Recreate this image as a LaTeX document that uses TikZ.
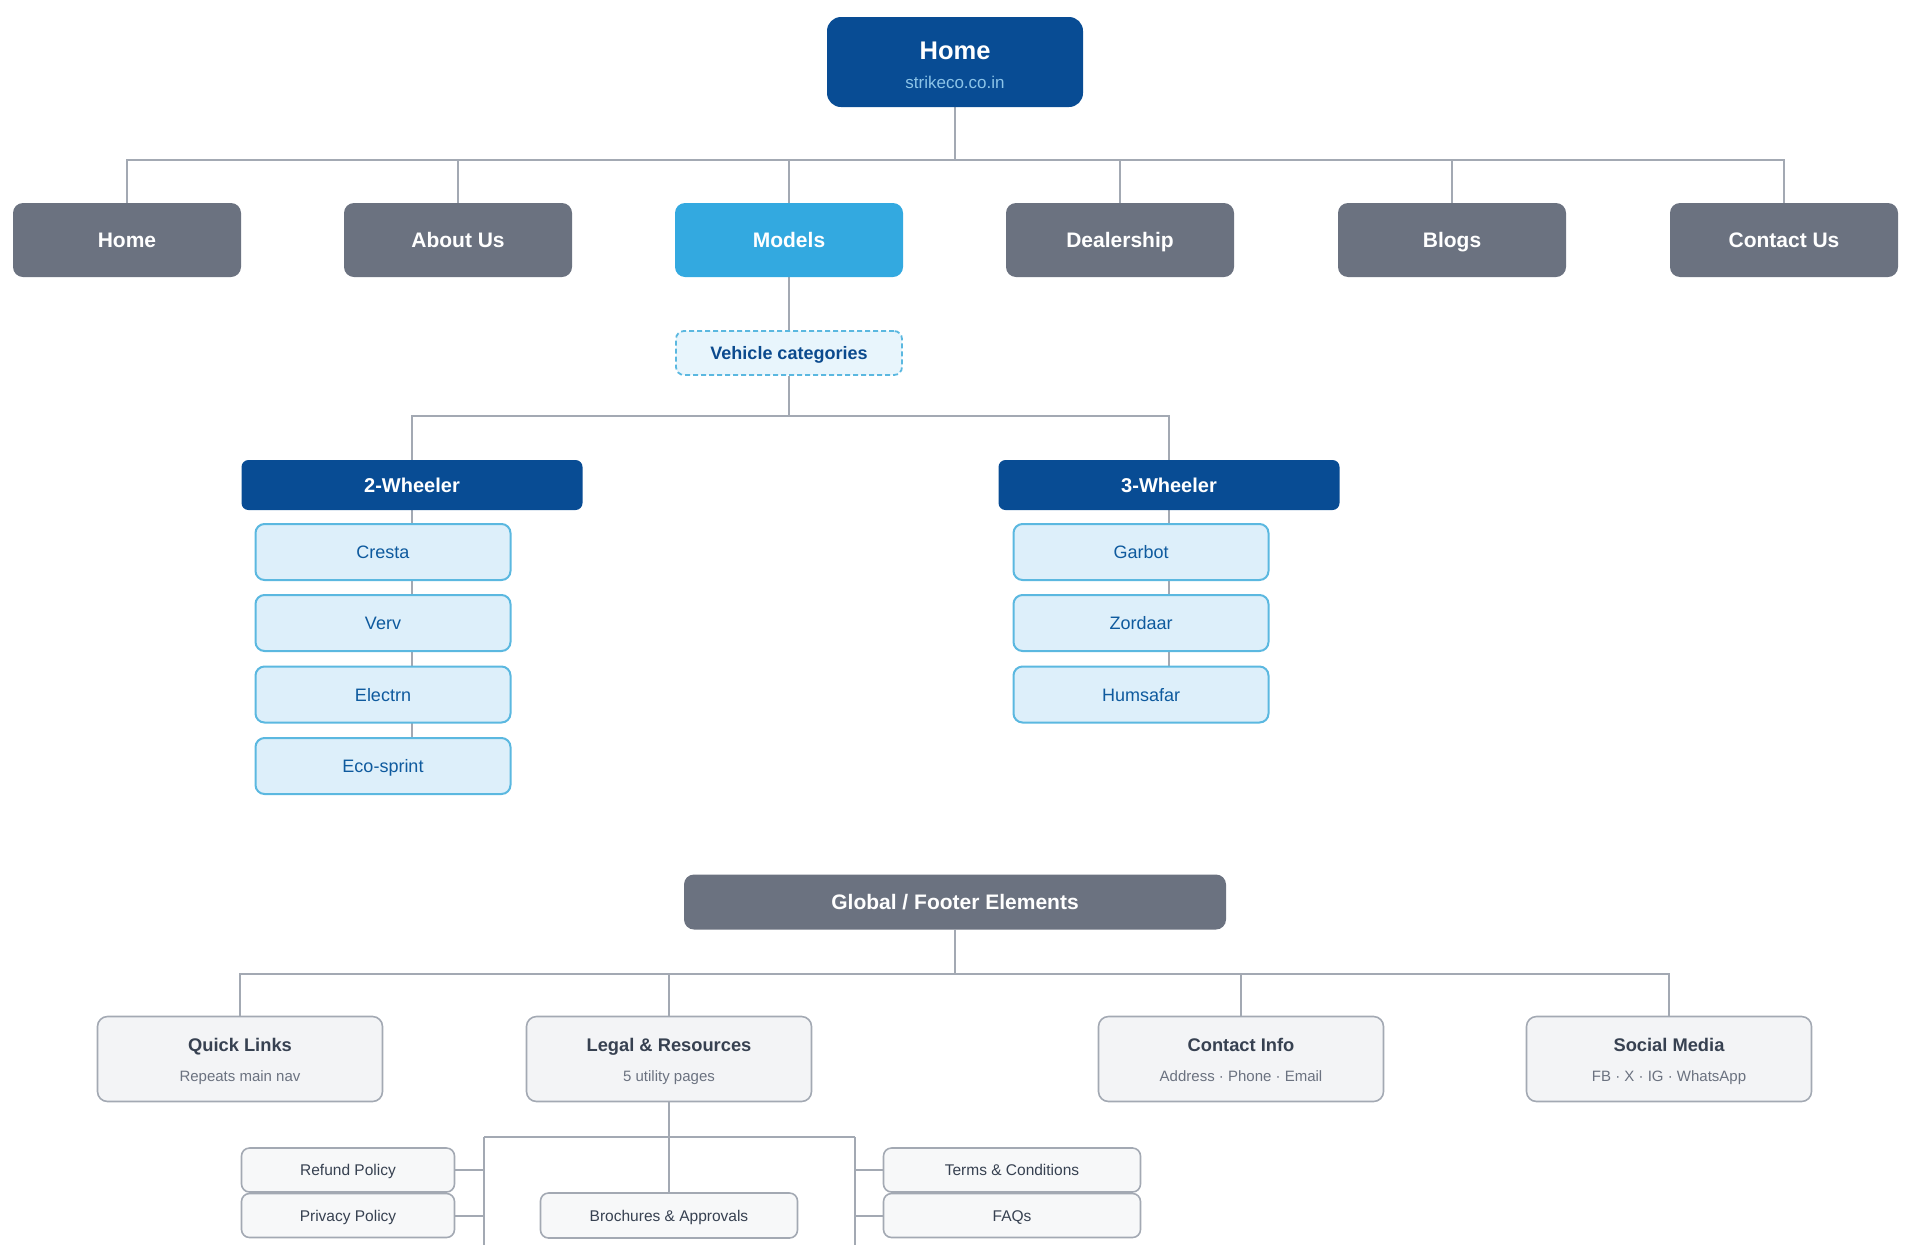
\documentclass[tikz,border=0pt]{standalone}
\usepackage{fontspec}
\setmainfont{Liberation Sans}
\usetikzlibrary{backgrounds}
\definecolor{navy}{HTML}{084C94}
\definecolor{navgray}{HTML}{6B7280}
\definecolor{skyb}{HTML}{33A9E0}
\definecolor{itemfill}{HTML}{DDEFFA}
\definecolor{itemdraw}{HTML}{5BB8E0}
\definecolor{itemtext}{HTML}{0E5A9E}
\definecolor{vehfill}{HTML}{E8F5FC}
\definecolor{vehtext}{HTML}{0B4A8E}
\definecolor{footfill}{HTML}{F3F4F6}
\definecolor{footdraw}{HTML}{A3A9B3}
\definecolor{foottitle}{HTML}{374151}
\definecolor{footsub}{HTML}{6B7280}
\definecolor{linec}{HTML}{A3A9B3}
\definecolor{subblue}{HTML}{8CC4E8}
\definecolor{smallfill}{HTML}{F7F8F9}
\tikzset{
  conn/.style={draw=linec, line width=2pt},
  oneline/.style={text height=#1, text depth=0pt},
  topbox/.style={fill=navy, rounded corners=14pt, minimum width=256pt, minimum height=90pt, inner sep=0pt, align=center},
  navbox/.style={oneline=15pt, fill=navgray, rounded corners=10pt, minimum width=228pt, minimum height=74pt, inner sep=0pt, text=white, font=\fontsize{21}{25}\selectfont\bfseries},
  modelbox/.style={navbox, fill=skyb},
  vehbox/.style={oneline=13pt, fill=vehfill, draw=itemdraw, dashed, line width=1.8pt, dash pattern=on 5pt off 3pt, rounded corners=8pt, minimum width=226pt, minimum height=44pt, inner sep=0pt, text=vehtext, font=\fontsize{18}{22}\selectfont\bfseries},
  wheelbox/.style={oneline=14.4pt, fill=navy, rounded corners=7pt, minimum width=341pt, minimum height=50pt, inner sep=0pt, text=white, font=\fontsize{20}{24}\selectfont\bfseries},
  itembox/.style={oneline=13pt, fill=itemfill, draw=itemdraw, line width=2pt, rounded corners=9pt, minimum width=255pt, minimum height=56pt, inner sep=0pt, text=itemtext, font=\fontsize{18}{22}\selectfont},
  globalbox/.style={oneline=15pt, fill=navgray, rounded corners=10pt, minimum width=542pt, minimum height=55pt, inner sep=0pt, text=white, font=\fontsize{21}{25}\selectfont\bfseries},
  footbox/.style={fill=footfill, draw=footdraw, line width=1.6pt, rounded corners=10pt, minimum width=285pt, minimum height=85pt, inner sep=0pt, align=center},
  smallbox/.style={oneline=11.2pt, fill=smallfill, draw=footdraw, line width=1.6pt, rounded corners=8pt, minimum height=44pt, inner sep=0pt, text=foottitle, font=\fontsize{15.5}{19}\selectfont},
}
\newcommand{\foottext}[2]{{\color{foottitle}\fontsize{18.3}{22}\selectfont\bfseries\rule{0pt}{18pt}\vphantom{Ag}#1}\\[14pt]{\color{footsub}\fontsize{15}{18}\selectfont\vphantom{Ag}#2}}
\begin{document}
\begin{tikzpicture}[x=1pt,y=-1pt]
\useasboundingbox (0,0) rectangle (1913,1256);
% top
\node[topbox] (top) at (955,62) {{\color{white}\fontsize{25.5}{30}\selectfont\bfseries\rule{0pt}{27pt}\vphantom{Ag}Home}\\[10pt]{\color{subblue}\fontsize{17}{20}\selectfont\vphantom{Ag}strikeco.co.in}};
% nav
\node[navbox] (n1) at (127,240) {Home};
\node[navbox] (n2) at (458,240) {About Us};
\node[modelbox] (n3) at (789,240) {Models};
\node[navbox] (n4) at (1120,240) {Dealership};
\node[navbox] (n5) at (1452,240) {Blogs};
\node[navbox] (n6) at (1784,240) {Contact Us};
% vehicle categories
\node[vehbox] (veh) at (789,353) {Vehicle categories};
\node[wheelbox] (w2) at (412,485) {2-Wheeler};
\node[wheelbox] (w3) at (1169,485) {3-Wheeler};
\node[itembox] (c1) at (383,552) {Cresta};
\node[itembox] (c2) at (383,623) {Verv};
\node[itembox] (c3) at (383,694.5) {Electrn};
\node[itembox] (c4) at (383,766) {Eco-sprint};
\node[itembox] (d1) at (1141,552) {Garbot};
\node[itembox] (d2) at (1141,623) {Zordaar};
\node[itembox] (d3) at (1141,694.5) {Humsafar};
% footer
\node[globalbox] (gf) at (955,902) {Global / Footer Elements};
\node[footbox] (f1) at (240,1059) {\foottext{Quick Links}{Repeats main nav}};
\node[footbox] (f2) at (669,1059) {\foottext{Legal \& Resources}{5 utility pages}};
\node[footbox] (f3) at (1241,1059) {\foottext{Contact Info}{Address · Phone · Email}};
\node[footbox] (f4) at (1669,1059) {\foottext{Social Media}{FB · X · IG · WhatsApp}};
\node[smallbox, minimum width=213pt] (r1) at (348,1170) {Refund Policy};
\node[smallbox, minimum width=213pt] (r2) at (348,1215.5) {Privacy Policy};
\node[smallbox, minimum width=257pt, minimum height=45pt] (r3) at (669,1215.5) {Brochures \& Approvals};
\node[smallbox, minimum width=257pt] (r4) at (1012,1170) {Terms \& Conditions};
\node[smallbox, minimum width=257pt] (r5) at (1012,1215.5) {FAQs};
% connector coordinates
\coordinate (b1) at (955,160);
\coordinate (b2) at (789,416);
\coordinate (b3) at (955,974);
\coordinate (b4) at (669,1137);
\coordinate (b4L) at (484,1137);
\coordinate (b4R) at (855,1137);
\coordinate (b4Lend) at (484,1245);
\coordinate (b4Rend) at (855,1245);
\begin{scope}[on background layer]
\draw[conn] (top.south) -- (b1);
\foreach \n in {n1,n2,n3,n4,n5,n6} \draw[conn] (b1) -| (\n.north);
\draw[conn] (n3.south) -- (veh.north);
\draw[conn] (veh.south) -- (b2);
\draw[conn] (b2) -| (w2.north);
\draw[conn] (b2) -| (w3.north);
\draw[conn] (w2.south) -- (w2.south |- c4.north);
\draw[conn] (w3.south) -- (w3.south |- d3.north);
\draw[conn] (gf.south) -- (b3);
\foreach \n in {f1,f2,f3,f4} \draw[conn] (b3) -| (\n.north);
\draw[conn] (f2.south) -- (b4);
\draw[conn] (b4L) -- (b4R);
\draw[conn] (b4) -- (r3.north);
\draw[conn] (b4L) -- (b4Lend);
\draw[conn] (b4R) -- (b4Rend);
\draw[conn] (r1.east) -- (r1.east -| b4L);
\draw[conn] (r2.east) -- (r2.east -| b4L);
\draw[conn] (r4.west) -- (r4.west -| b4R);
\draw[conn] (r5.west) -- (r5.west -| b4R);
\end{scope}
\end{tikzpicture}
\end{document}
